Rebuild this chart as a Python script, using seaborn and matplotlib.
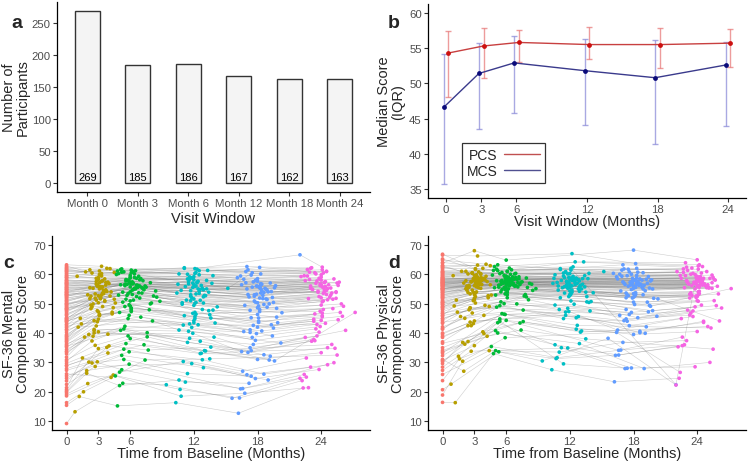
import numpy as np
import pandas as pd
import matplotlib
matplotlib.use("Agg")
import matplotlib.pyplot as plt
from matplotlib.lines import Line2D
import seaborn as sns

# ---------------- Panel a data ----------------
visit_labels = ["Month 0", "Month 3", "Month 6", "Month 12", "Month 18", "Month 24"]
participants = [269, 185, 186, 167, 162, 163]

# ---------------- Panel b data ----------------
months = [0, 3, 6, 12, 18, 24]
pcs_median = [54.3, 55.3, 55.8, 55.5, 55.5, 55.7]
pcs_q1 = [48.0, 50.7, 53.0, 53.4, 52.2, 52.3]
pcs_q3 = [57.4, 57.9, 57.6, 58.0, 57.8, 57.7]
mcs_median = [46.6, 51.4, 52.9, 51.8, 50.8, 52.6]
mcs_q1 = [35.7, 43.5, 45.8, 44.1, 41.4, 43.9]
mcs_q3 = [54.1, 55.7, 56.7, 56.3, 56.1, 55.8]

# ---------------- Panels c/d data (per participant, per visit) ----------------
N = None
t3 = [3.0, 2.8, 3.3, 2.5, 3.6, N, 3.1, 2.9, 4.1, 3.4,
      2.2, 3.0, N, 3.8, 2.7, 3.2, 1.9, 3.5, 2.6, 3.0,
      4.4, 3.1, 2.4, N, 3.3, 2.9, 1.2, 3.7, 3.0, 2.8,
      3.2, 2.1, 3.9, 3.0, N, 2.7, 3.4, 3.1, 0.8, 2.5,
      3.6, N, 3.0, 2.3, 3.3, 4.2, 2.9, 3.1, 1.6, 3.5,
      2.8, 3.2, 3.0, N, 2.6, 3.8, 3.1, 2.4, 3.3, 4.6,
      3.0, 2.7, N, 3.4, 2.9, 1.5, 3.2, 3.6, 2.8, 3.1,
      2.0, 3.5, 3.0, 2.6, N, 3.3, 4.0, 2.9, 3.1, 2.4,
      1.0, 4.3, 2.2, 3.9, 1.8, 4.5, 2.6, 3.7, N, 2.0,
      4.1, 1.4, 3.5, 2.3, 4.4, N, 3.2, 1.7, 3.8, 2.5,
      4.0, 2.1, N, 3.6, 1.3, 4.2, 2.7, 3.3, 2.4, 4.5,
      3.9, N, 2.2, 1.9, 3.4, 4.3, 2.8, 1.1, 3.7, 2.3]
t6 = [6.0, 5.8, 6.4, 5.5, 6.9, 6.1, N, 5.9, 7.2, 6.3,
      5.2, N, 6.0, 7.6, 5.7, 6.2, 5.0, 6.6, N, 6.0,
      7.9, 6.1, 5.4, 6.8, N, 5.9, 4.8, 6.7, 6.0, 5.6,
      6.2, 5.1, 7.0, 6.0, 6.5, N, 6.4, 6.1, 5.3, 5.5,
      6.6, 6.0, N, 5.3, 6.3, 7.4, 5.9, 6.1, 4.6, 6.5,
      5.8, 6.2, 6.0, 5.7, N, 6.8, 6.1, 5.4, 6.3, 8.5,
      6.0, N, 5.6, 6.4, 5.9, 5.2, 6.2, 7.1, 5.8, 6.1,
      5.0, 6.5, 6.0, N, 5.6, 6.3, 7.7, 5.9, 6.1, 5.4,
      4.7, 7.8, 5.5, 7.3, 5.1, 8.2, N, 6.9, 5.2, 7.5,
      4.9, 7.0, 5.6, 8.0, N, 6.7, 5.3, 7.6, 4.8, 6.9,
      7.2, 5.4, 8.4, N, 5.0, 7.4, 5.8, 6.6, 8.8, 5.2,
      N, 7.1, 4.9, 5.9, 7.9, 5.5, 6.8, 8.1, 5.1, 7.3]
t12 = [12.0, 11.8, 12.5, 11.3, N, 12.2, 11.9, 12.8, 13.4, 12.1,
       11.1, 12.0, N, 13.0, 11.7, 12.3, 10.6, 12.6, 11.5, N,
       13.8, 12.1, 11.4, 12.9, 12.2, N, 10.3, 12.7, 12.0, 11.6,
       12.2, N, 13.2, 12.0, 12.5, 11.8, 12.4, 12.1, 9.4, 11.5,
       12.6, 12.0, 11.6, N, 12.3, 13.5, 11.9, 12.1, 10.8, 12.5,
       11.8, 12.2, N, 11.7, 12.4, 12.8, 12.1, 11.4, 12.3, 14.2,
       12.0, 11.7, 12.6, N, 11.9, 11.2, 12.2, 13.1, 11.8, 12.1,
       11.0, 12.5, 12.0, 11.6, 12.9, N, 13.6, 11.9, 12.1, 11.4,
       10.6, 13.6, 11.2, 13.1, N, 10.9, 13.9, 11.5, 12.9, 10.4,
       13.3, 11.0, N, 12.8, 10.7, 13.7, 11.3, 12.6, 11.1, 13.4,
       10.5, N, 13.0, 11.6, 14.0, 10.8, 12.7, 11.4, 13.5, 15.2,
       11.9, 13.2, 10.9, N, 12.4, 11.1, 13.8, 10.6, 12.9, 11.7]
t18 = [18.0, 17.8, N, 17.3, 18.9, 18.2, 17.9, 18.6, 19.4, 18.1,
       17.1, 18.0, 18.3, N, 17.7, 18.3, 16.6, 18.6, 17.5, 18.0,
       19.8, N, 17.4, 18.9, 18.2, 17.9, 16.2, 18.7, 18.0, 17.6,
       18.2, 17.1, 19.2, 18.0, N, 17.8, 18.4, 18.1, 15.6, 17.5,
       18.6, 18.0, 17.6, 17.3, 18.3, N, 17.9, 18.1, 16.8, 18.5,
       17.8, 18.2, 18.0, 17.7, 18.4, 18.8, N, 17.4, 18.3, 20.3,
       18.0, 17.7, 18.6, 18.4, N, 17.2, 18.2, 19.1, 17.8, 22.0,
       17.0, 18.5, N, 17.6, 18.9, 18.3, 19.6, 17.9, 18.1, 17.4,
       16.4, 19.5, N, 19.1, 16.9, 19.8, 17.3, 16.5, 19.0, 17.2,
       N, 16.7, 19.3, 17.4, 16.3, 19.7, 16.8, 19.2, 17.0, N,
       19.6, 16.6, 18.8, 16.1, 19.4, 17.1, N, 16.9, 19.9, 17.5,
       16.5, 19.0, 17.3, 16.4, N, 19.3, 16.7, 20.2, 17.0, 19.5]
t24 = [24.0, 23.8, 24.5, N, 24.9, 24.2, 23.9, 24.6, 25.4, 24.1,
       23.1, 24.0, 24.3, 25.0, N, 24.3, 22.6, 24.6, 23.5, 24.0,
       25.8, 24.1, N, 24.9, 24.2, 23.9, 22.3, 24.7, 24.0, 23.6,
       24.2, 23.1, 25.2, N, 24.5, 23.8, 24.4, 24.1, 22.0, 23.5,
       24.6, 24.0, 23.6, 23.3, N, 25.5, 23.9, 24.1, 22.8, 24.5,
       23.8, 24.2, 24.0, 23.7, 24.4, N, 24.1, 23.4, 24.3, 26.1,
       24.0, 23.7, 24.6, 24.4, 23.9, N, 24.2, 25.1, 23.8, 24.1,
       23.0, 24.5, 24.0, 23.6, N, 24.3, 27.2, 23.9, 24.1, 23.4,
       22.4, 25.6, 23.0, N, 22.7, 25.9, 23.3, 22.5, 25.2, 23.2,
       22.9, N, 25.4, 23.4, 22.2, 25.7, 22.8, N, 23.0, 25.1,
       25.6, 22.6, 24.8, 22.1, N, 23.1, 25.3, 22.9, 26.0, 23.5,
       22.5, 25.0, N, 22.4, 25.5, 23.3, 22.7, 26.3, 23.0, 25.4]

mcs0 = [55.2, 48.1, 60.3, 33.5, 52.7, 41.0, 57.8, 24.6, 50.2, 45.3,
        62.1, 38.4, 53.9, 29.7, 47.5, 56.3, 19.8, 51.4, 35.2, 58.6,
        44.1, 54.6, 27.3, 49.8, 61.5, 36.9, 15.4, 53.1, 42.7, 57.0,
        46.2, 31.8, 55.8, 40.3, 59.4, 22.5, 50.9, 37.6, 9.2, 52.3,
        48.7, 56.9, 34.4, 43.6, 63.2, 26.1, 54.0, 39.5, 16.3, 51.8,
        58.1, 45.0, 20.7, 53.5, 37.2, 49.3, 61.0, 30.4, 55.4, 43.9,
        47.1, 52.0, 28.8, 56.5, 41.8, 21.4, 54.8, 46.6, 35.9, 60.7,
        19.2, 50.6, 57.4, 32.9, 48.4, 44.8, 23.7, 53.7, 38.8, 62.8,
        58.9, 42.2, 54.3, 29.0, 61.8, 47.8, 36.3, 56.0, 25.4, 51.1,
        60.0, 39.1, 53.0, 44.3, 18.6, 57.3, 49.0, 33.8, 62.4, 46.0,
        55.5, 27.9, 50.0, 59.6, 41.2, 53.2, 30.9, 57.9, 44.6, 61.2,
        35.5, 52.6, 48.2, 20.2, 56.7, 43.0, 59.0, 38.0, 54.9, 49.6]
mcs3 = [56.0, 51.2, 59.4, 38.9, 54.3, N, 57.1, 30.2, 52.6, 49.0,
        61.5, 44.7, N, 35.1, 51.9, 55.8, 26.3, 53.4, 41.2, 58.9,
        48.6, 55.0, 29.8, N, 60.2, 43.8, 18.4, 54.7, 50.3, 56.6,
        52.1, 39.5, 57.3, 47.2, N, 28.6, 53.6, 45.9, 13.2, 55.2,
        50.8, N, 40.4, 49.5, 62.7, 24.9, 56.2, 46.1, 20.0, 53.9,
        57.5, 51.6, 34.7, N, 44.2, 54.1, 59.9, 37.3, 55.3, 50.2,
        52.7, 53.3, N, 57.8, 47.6, 31.5, 55.6, 51.0, 42.4, 61.1,
        22.8, 54.5, 58.2, 40.8, N, 52.9, 35.6, 55.9, 46.4, 60.4,
        59.3, 46.5, 55.4, 33.2, 60.8, 51.5, 40.0, 57.2, N, 53.0,
        61.9, 43.1, 54.4, 48.3, 25.7, N, 52.0, 38.6, 62.0, 49.9,
        56.8, 30.1, N, 58.4, 45.0, 54.0, 35.8, 57.6, 48.9, 60.6,
        39.6, N, 51.7, 27.2, 55.7, 47.1, 58.6, 42.0, 56.3, 52.5]
mcs6 = [57.2, 53.4, 60.1, 42.3, 56.0, 48.5, N, 33.6, 55.1, 51.2,
        61.8, N, 55.7, 38.7, 52.8, 57.4, 22.1, 56.3, N, 59.6,
        49.9, 56.8, 31.0, 53.7, N, 46.0, 15.2, 55.5, 50.9, 58.2,
        54.6, 40.9, 58.5, 49.2, 61.2, N, 55.2, 47.7, 22.9, 56.1,
        52.4, 58.7, N, 50.5, 60.9, 30.8, 57.0, 48.2, 25.4, 55.0,
        58.0, 53.1, 38.1, 56.5, N, 55.9, 60.5, 41.4, 56.9, 52.2,
        54.0, N, 36.4, 58.9, 49.6, 27.5, 56.7, 53.6, 44.9, 61.4,
        26.7, 55.3, 59.0, N, 51.5, 54.8, 34.2, 57.6, 47.3, 60.8,
        59.9, 47.9, 56.6, 36.0, 61.6, 52.6, N, 58.1, 32.4, 55.6,
        60.2, 45.4, 57.7, 50.2, N, 56.2, 53.9, 40.1, 61.1, 51.9,
        57.8, 34.5, 54.3, N, 47.0, 56.0, 39.0, 58.6, 50.8, 60.7,
        N, 55.4, 52.9, 29.4, 57.1, 49.0, 59.3, 44.1, 56.4, 54.7]
mcs12 = [56.4, 52.0, 61.2, N, 55.6, 46.4, 58.7, 30.9, 53.9, 50.1,
         62.0, 43.5, N, 34.0, 52.5, 57.1, 24.0, 54.8, 40.6, N,
         47.8, 55.9, 26.2, 52.3, 60.6, N, 16.3, 56.2, 49.4, 58.3,
         53.3, N, 57.9, 44.2, 59.8, 29.6, 55.0, 45.6, 22.4, 56.7,
         51.1, 58.1, 38.2, N, 61.7, 31.2, 55.5, 47.0, 18.5, 54.2,
         58.8, 50.4, N, 53.0, 42.8, 55.2, 60.3, 36.8, 57.3, 48.9,
         51.6, 54.4, 33.0, N, 46.7, 23.3, 56.0, 52.7, 41.9, 61.9,
         30.3, 53.5, 59.2, 43.1, 50.2, N, 35.2, 57.0, 44.9, 60.0,
         60.1, 45.1, 55.8, 33.9, N, 50.3, 38.6, 57.5, 28.2, 53.6,
         61.3, 42.7, N, 48.0, 20.8, 56.9, 51.2, 37.2, 62.2, 47.6,
         56.6, N, 52.8, 59.1, 43.4, 54.5, 33.1, 58.4, 46.2, 55.2,
         39.9, 55.0, 49.8, N, 57.6, 45.9, 59.5, 41.0, 54.7, 51.0]
mcs18 = [55.9, 50.5, N, 40.2, 54.6, 47.3, 58.0, 26.0, 52.1, 49.2,
         61.5, 42.0, 55.1, N, 50.9, 56.8, 21.1, 53.8, 38.5, 58.5,
         45.4, N, 25.3, 51.4, 62.3, 39.8, 12.7, 55.2, 48.6, 57.4,
         51.9, 33.4, 57.0, 46.3, N, 24.5, 54.4, 44.0, 17.8, 55.6,
         49.7, 57.6, 36.1, 41.1, 60.1, N, 53.2, 43.6, 19.5, 52.8,
         57.9, 48.0, 31.0, 52.5, 40.7, 54.9, N, 34.0, 56.3, 46.9,
         50.3, 53.0, 32.6, 56.6, N, 22.9, 55.3, 49.9, 37.5, 66.6,
         25.8, 51.7, N, 42.6, 48.8, 53.6, 30.5, 56.0, 45.1, 59.7,
         59.4, 41.7, N, 30.8, 60.9, 48.4, 35.0, 56.4, 24.0, 52.3,
         N, 40.5, 54.1, 45.2, 17.9, 56.1, 49.4, 32.1, 62.6, N,
         55.4, 27.0, 51.6, 58.8, 39.0, 53.1, N, 57.1, 43.5, 60.5,
         33.7, 54.0, 47.7, 21.0, N, 42.8, 58.3, 36.6, 55.0, 50.4]
mcs24 = [56.5, 52.4, 61.0, N, 55.3, 48.0, 58.3, 29.2, 53.8, 50.6,
         62.2, 44.3, 54.7, 36.1, N, 57.2, 25.0, 55.1, 41.4, 59.0,
         47.0, 55.7, N, 52.9, 60.4, 42.2, 21.3, 56.4, 49.5, 57.7,
         53.5, 37.2, 58.4, N, 60.9, 27.6, 55.8, 45.5, 24.6, 56.9,
         51.3, 58.0, 39.0, 44.7, N, 32.5, 56.1, 46.8, 21.4, 54.5,
         58.6, 50.9, 33.3, 53.9, 43.3, N, 61.5, 37.4, 57.2, 49.1,
         52.0, 54.2, 35.0, 57.5, 47.4, N, 55.5, 51.5, 40.3, 62.4,
         28.4, 53.1, 59.8, 42.9, N, 54.0, 47.0, 56.7, 45.9, 60.5,
         59.5, 44.5, 56.0, N, 61.6, 49.9, 37.8, 57.8, 29.9, 54.8,
         60.7, N, 54.0, 46.5, 23.8, 57.3, 51.7, N, 62.0, 48.3,
         56.2, 31.5, 52.2, 59.2, N, 55.0, 34.8, 58.2, 45.7, 60.1,
         38.5, 53.6, N, 25.9, 57.0, 44.0, 59.4, 40.9, 55.3, 51.8]

pcs0 = [57.6, 52.3, 55.0, 44.8, 60.2, 49.1, 56.3, 38.5, 58.9, 53.7,
        61.4, 47.2, 54.9, 35.0, 57.1, 59.5, 29.6, 56.0, 50.4, 63.8,
        45.9, 58.2, 32.3, 54.1, 66.5, 51.0, 16.4, 55.8, 48.3, 60.7,
        53.2, 42.1, 57.9, 50.7, 64.0, 27.3, 56.6, 46.5, 20.7, 55.3,
        58.5, 54.4, 40.0, 52.8, 62.3, 34.1, 57.3, 49.7, 23.8, 56.9,
        59.7, 51.5, 30.7, 55.6, 43.3, 57.7, 65.2, 37.0, 58.1, 48.8,
        54.7, 56.4, 33.2, 60.9, 47.9, 28.4, 57.0, 53.0, 41.5, 66.8,
        31.0, 55.1, 62.9, 39.6, 52.0, 56.2, 45.0, 58.6, 50.1, 59.9,
        59.0, 50.3, 57.4, 36.5, 62.5, 55.2, 46.7, 58.3, 33.6, 56.5,
        64.8, 44.2, 56.8, 52.5, 25.9, 58.7, 54.5, 41.3, 61.9, 53.6,
        57.2, 30.3, 55.7, 60.4, 48.7, 57.0, 38.9, 59.2, 51.9, 63.0,
        43.6, 56.1, 53.9, 18.9, 58.0, 49.6, 60.8, 45.8, 57.6, 55.0]
pcs3 = [58.1, 54.6, 57.2, 47.9, 60.0, N, 57.0, 43.2, 59.3, 55.4,
        61.0, 51.3, N, 40.4, 57.5, 59.8, 36.8, 56.7, 53.3, 68.0,
        49.0, 58.9, 37.1, N, 66.2, 53.9, 16.3, 56.5, 51.8, 60.5,
        55.7, 45.0, 58.6, 53.1, N, 33.8, 57.6, 50.2, 22.6, 56.2,
        58.8, N, 44.1, 55.0, 63.1, 38.9, 57.9, 52.4, 31.2, 57.3,
        60.3, 54.0, 35.7, N, 48.6, 58.3, 61.6, 42.5, 58.0, 52.9,
        56.1, 57.4, N, 60.8, 51.0, 32.1, 57.8, 55.2, 46.8, 61.9,
        27.0, 56.6, 59.6, 43.7, N, 56.9, 49.4, 58.5, 53.6, 60.1,
        59.5, 52.0, 57.8, 39.8, 61.0, 56.4, 48.5, 58.7, N, 57.0,
        63.4, 47.1, 57.3, 54.6, 34.0, N, 56.1, 45.6, 62.0, 55.6,
        58.1, 36.2, N, 60.2, 51.2, 57.5, 42.5, 59.0, 53.8, 62.9,
        46.0, N, 55.1, 30.4, 58.4, 52.7, 60.5, 49.2, 57.9, 56.0]
pcs6 = [57.9, 55.5, 58.4, 50.6, 60.3, 54.2, N, 46.3, 59.1, 56.0,
        61.2, N, 57.3, 43.9, 57.0, 59.0, 40.8, 56.4, N, 64.8,
        52.3, 58.6, 44.0, 55.9, N, 54.7, 33.0, 56.8, 53.5, 60.6,
        56.3, 48.8, 58.2, 55.2, 61.5, N, 57.4, 52.0, 33.6, 56.5,
        58.0, 56.7, N, 55.6, 62.1, 41.0, 57.7, 53.8, 35.4, 57.1,
        59.6, 55.0, 44.3, 57.0, N, 58.5, 60.9, 49.3, 58.1, 54.5,
        56.2, N, 46.6, 60.0, 53.3, 43.5, 57.5, 55.7, 50.0, 61.0,
        34.0, 56.6, 59.4, N, 54.8, 57.2, 52.6, 58.8, 53.0, 60.2,
        59.7, 53.1, 57.6, 43.4, 61.7, 56.9, N, 58.9, 40.0, 57.4,
        62.6, 49.9, 57.9, 55.5, N, 58.2, 56.3, 47.8, 61.3, 56.1,
        58.4, 44.8, 56.6, N, 52.9, 57.3, 46.4, 59.1, 55.1, 63.2,
        N, 57.1, 55.4, 38.4, 58.7, 54.0, 60.1, 51.3, 57.8, 56.5]
pcs12 = [58.3, 55.2, 58.0, N, 60.7, 53.9, 57.1, 45.6, 59.5, 56.1,
         61.6, 52.8, N, 40.3, 57.6, 59.3, 36.0, 56.8, 53.6, N,
         50.4, 58.7, 29.5, 55.7, 67.0, N, 27.5, 56.9, 53.1, 60.9,
         56.0, N, 58.5, 54.3, 64.2, 34.9, 57.7, 50.9, 30.5, 55.8,
         58.7, 56.3, 46.0, N, 62.5, 38.0, 57.3, 54.1, 31.6, 57.0,
         60.1, 54.6, N, 56.4, 49.8, 58.2, 61.4, 44.9, 58.8, 53.7,
         55.5, 57.5, 41.3, N, 52.4, 35.0, 57.9, 55.0, 48.4, 62.0,
         33.5, 56.5, 60.2, 47.1, 54.2, N, 50.6, 58.9, 53.2, 60.4,
         59.8, 52.4, 57.9, 40.7, N, 56.0, 47.5, 58.8, 36.4, 56.9,
         64.2, 48.0, N, 55.0, 31.3, 58.5, 55.4, 45.2, 61.9, 55.7,
         58.6, N, 56.2, 60.6, 50.7, 57.2, 42.6, 59.4, 53.9, 60.9,
         47.3, 56.6, 54.6, N, 58.1, 52.0, 60.3, 49.5, 57.7, 55.9]
pcs18 = [58.0, 54.8, N, 48.0, 60.5, 53.1, 57.0, 40.1, 59.2, 55.7,
         61.8, 50.5, 56.6, N, 57.3, 59.6, 32.5, 56.4, 52.7, 68.2,
         47.6, N, 28.0, 55.0, 63.6, 51.9, 23.4, 56.6, 52.2, 60.8,
         55.5, 44.2, 58.3, 53.4, N, 28.1, 57.4, 49.7, 38.2, 55.9,
         58.4, 56.0, 42.5, 52.0, 62.0, N, 57.6, 53.5, 34.2, 57.0,
         60.0, 53.7, 39.5, 56.3, 45.2, 58.0, N, 44.0, 58.7, 51.6,
         55.2, 57.2, 40.6, 60.7, N, 27.9, 57.8, 54.4, 47.0, 22.4,
         36.8, 56.2, N, 46.3, 53.0, 56.9, 49.1, 58.6, 52.5, 59.5,
         59.1, 49.4, N, 39.9, 61.4, 55.0, 44.8, 58.4, 27.9, 56.5,
         N, 46.0, 56.9, 53.0, 32.4, 58.1, 54.3, 42.1, 63.2, N,
         57.7, 34.1, 55.6, 60.3, 47.2, 57.0, N, 59.3, 51.8, 61.7,
         41.0, 56.2, 53.6, 40.2, N, 50.5, 60.0, 45.7, 57.4, 55.3]
pcs24 = [58.2, 55.0, 57.9, N, 60.9, 53.4, 56.8, 44.0, 59.7, 55.9,
         61.3, 51.0, 56.4, 42.2, N, 59.2, 35.7, 56.5, 52.8, 64.9,
         49.3, 58.8, N, 55.4, 63.2, 52.1, 24.6, 56.7, 52.4, 60.3,
         55.6, 47.8, 58.6, N, 62.6, 28.5, 57.5, 50.8, 22.3, 56.1,
         58.6, 56.1, 45.6, 53.2, N, 34.5, 57.4, 54.0, 36.0, 57.2,
         59.9, 54.2, 40.5, 56.8, 49.5, N, 61.7, 46.8, 58.4, 44.1,
         55.8, 57.3, 43.6, 60.4, 52.6, N, 57.6, 55.3, 48.9, 62.8,
         37.4, 56.3, 59.3, 47.5, N, 57.0, 55.1, 58.9, 53.0, 60.0,
         59.6, 51.0, 57.7, N, 61.8, 55.9, 46.1, 58.6, 30.0, 56.6,
         63.9, N, 57.1, 53.7, 35.3, 58.0, 55.4, N, 62.4, 55.5,
         58.2, 38.6, 56.0, 60.9, N, 57.1, 41.7, 59.5, 53.3, 62.1,
         44.9, 56.4, N, 26.6, 58.9, 51.9, 60.6, 48.5, 57.8, 55.2]

# ---------------- Build long table ----------------
n_part = len(mcs0)
times_by_visit = [[0.0] * n_part, t3, t6, t12, t18, t24]
mcs_by_visit = [mcs0, mcs3, mcs6, mcs12, mcs18, mcs24]
pcs_by_visit = [pcs0, pcs3, pcs6, pcs12, pcs18, pcs24]
rows = []
for v, lab in enumerate(visit_labels):
    for i in range(n_part):
        t = times_by_visit[v][i]
        if t is None:
            continue
        rows.append(dict(pid=i, visit=lab, time=t,
                         mcs=mcs_by_visit[v][i], pcs=pcs_by_visit[v][i]))
df = pd.DataFrame(rows).astype({"mcs": float, "pcs": float})

# ---------------- Style ----------------
sns.set_style("ticks")
plt.rcParams["font.family"] = ["Liberation Sans", "DejaVu Sans"]
tick_col = "#4D4D4D"
W, H = 750, 464
fig = plt.figure(figsize=(7.5, 4.64), dpi=100)


def add_ax(l, t, r, b):
    return fig.add_axes([l / W, 1 - b / H, (r - l) / W, (b - t) / H])


def style(ax):
    sns.despine(ax=ax)
    for s in ["left", "bottom"]:
        ax.spines[s].set_color("black")
        ax.spines[s].set_linewidth(0.9)
    ax.tick_params(axis="both", colors="#333333", labelcolor=tick_col,
                   labelsize=8.2, length=3, width=0.8, pad=1.5)


hue_pal = ["#F8766D", "#B79F00", "#00BA38", "#00BFC4", "#619CFF", "#F564E3"]

# ---------------- Panel a ----------------
axa = add_ax(57, 3, 370, 193)
sns.barplot(x=visit_labels, y=participants, order=visit_labels, color="#F4F4F4",
            saturation=1, edgecolor="#333333", linewidth=1.0, width=0.5, ax=axa)
for i, c in enumerate(participants):
    axa.text(i, 2, str(c), ha="center", va="bottom", fontsize=8, color="black")
axa.set_xlim(-0.6, 5.6)
axa.set_ylim(-13.45, 282.45)
axa.set_yticks([0, 50, 100, 150, 200, 250])
style(axa)
axa.set_xlabel("Visit Window", fontsize=10.5)
axa.set_ylabel("Number of\nParticipants", fontsize=10.5, linespacing=1.0)
axa.xaxis.set_label_coords(0.5, -0.1)
axa.yaxis.set_label_coords(-0.086, 0.5)

# ---------------- Panel b ----------------
axb = add_ax(428, 5, 746, 199)
pcs_col, mcs_col = "#CC1010", "#0A0A7A"
x_p = np.array(months) + 0.2
x_m = np.array(months) - 0.2
pm, pq1, pq3 = map(np.array, (pcs_median, pcs_q1, pcs_q3))
mm, mq1, mq3 = map(np.array, (mcs_median, mcs_q1, mcs_q3))
axb.errorbar(x_m, mm, yerr=[mm - mq1, mq3 - mm], fmt="none",
             ecolor=(0.55, 0.55, 0.85, 0.75), elinewidth=1.0, capsize=2.2, capthick=1.0)
axb.errorbar(x_p, pm, yerr=[pm - pq1, pq3 - pm], fmt="none",
             ecolor=(0.9, 0.45, 0.45, 0.7), elinewidth=1.0, capsize=2.2, capthick=1.0)
sns.lineplot(x=x_p, y=pm, color="#C84040", lw=1.0, ax=axb, legend=False)
sns.lineplot(x=x_m, y=mm, color="#3A3A8C", lw=1.0, ax=axb, legend=False)
sns.scatterplot(x=x_p, y=pm, color=pcs_col, s=12, linewidth=0, ax=axb, zorder=4, legend=False)
sns.scatterplot(x=x_m, y=mm, color=mcs_col, s=12, linewidth=0, ax=axb, zorder=4, legend=False)
axb.set_xlim(-1.53, 25.53)
axb.set_ylim(33.75, 61.25)
axb.set_xticks(months)
axb.set_yticks([35, 40, 45, 50, 55, 60])
style(axb)
axb.set_xlabel("Visit Window (Months)", fontsize=10.5)
axb.set_ylabel("Median Score\n(IQR)", fontsize=10.5, linespacing=1.0)
axb.xaxis.set_label_coords(0.5, -0.085)
axb.yaxis.set_label_coords(-0.072, 0.5)
handles = [Line2D([], [], color="#C05050", lw=1.0),
           Line2D([], [], color="#505090", lw=1.0)]
leg = axb.legend(handles, ["PCS", "MCS"], loc="lower left",
                 bbox_to_anchor=(0.107, 0.077), markerfirst=False, fontsize=10,
                 frameon=True, fancybox=False, handlelength=2.6, handletextpad=0.45,
                 borderpad=0.35, labelspacing=0.15, borderaxespad=0)
leg.get_frame().set_edgecolor("black")
leg.get_frame().set_linewidth(0.9)

# ---------------- Panels c and d ----------------
for (l, r), score, ylab in [((52, 370), "mcs", "SF-36 Mental\nComponent Score"),
                            ((428, 746), "pcs", "SF-36 Physical\nComponent Score")]:
    ax = add_ax(l, 237, r, 431)
    sub = df.dropna(subset=[score])
    sns.lineplot(data=sub, x="time", y=score, units="pid", estimator=None,
                 color="#707070", lw=0.4, alpha=0.35, sort=True, ax=ax, legend=False)
    sns.scatterplot(data=sub, x="time", y=score, hue="visit", hue_order=visit_labels,
                    palette=hue_pal, s=7, linewidth=0, ax=ax, legend=False, zorder=3)
    ax.set_xlim(-1.37, 28.6)
    ax.set_ylim(7, 73)
    ax.set_xticks(months)
    ax.set_yticks([10, 20, 30, 40, 50, 60, 70])
    style(ax)
    ax.set_xlabel("Time from Baseline (Months)", fontsize=10.5)
    ax.set_ylabel(ylab, fontsize=10.5, linespacing=1.0)
    ax.xaxis.set_label_coords(0.5, -0.083)
    ax.yaxis.set_label_coords(-0.069 if score == "mcs" else -0.072, 0.5)

# ---------------- Panel letters ----------------
for lab, x, y in [("a", 17, 24), ("b", 394, 23), ("c", 8.5, 264), ("d", 394, 263)]:
    fig.text(x / W, 1 - y / H, lab, fontsize=14, fontweight="bold",
             ha="center", va="center")

fig.savefig("out.png", dpi=100)
